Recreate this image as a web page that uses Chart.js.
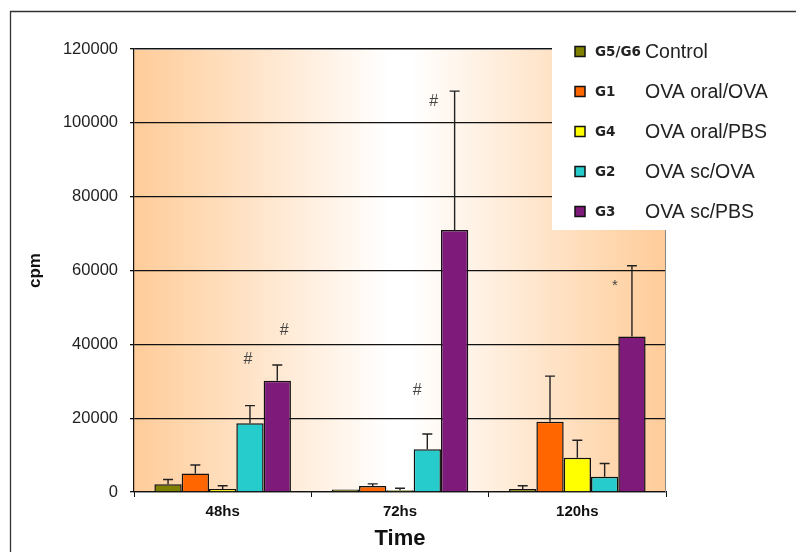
<!DOCTYPE html>
<html><head><meta charset="utf-8">
<script src="https://cdn.jsdelivr.net/npm/chart.js@4.4.1/dist/chart.umd.min.js"></script>
<style>html,body{margin:0;padding:0;background:#fff}#wrap{width:796px;height:552px}</style>
</head><body><div id="wrap"><canvas id="c" width="796" height="552"></canvas></div>
<script>
// ---- data ----
const categories = ['48hs', '72hs', '120hs'];
const groupCodes = ['G5/G6', 'G1', 'G4', 'G2', 'G3'];
const groupNames = ['Control', 'OVA oral/OVA', 'OVA oral/PBS', 'OVA sc/OVA', 'OVA sc/PBS'];
const controlValues    = [2100, 700, 800];
const controlErrors    = [1300, 0, 900];
const ovaOralOvaValues = [5000, 1600, 19000];
const ovaOralOvaErrors = [2300, 600, 12400];
const ovaOralPbsValues = [800, 500, 9300];
const ovaOralPbsErrors = [900, 500, 4700];
const ovaScOvaValues   = [18600, 11550, 4150];
const ovaScOvaErrors   = [4800, 4150, 3550];
const ovaScPbsValues   = [30150, 71000, 42100];
const ovaScPbsErrors   = [4250, 37600, 19200];
const yTicks = [0, 20000, 40000, 60000, 80000, 100000, 120000];
// significance marks: category index, dataset index, symbol, height (cpm)
const markCats   = [0, 0, 1, 1, 2];
const markSeries = [3, 4, 3, 4, 4];
const markSyms   = ['#', '#', '#', '#', '*'];
const markValues = [36000, 43600, 27600, 105700, 56300];

// ---- styles ----
const colors = ['#808000', '#FF6600', '#FFFF00', '#26CCCC', '#7E1A7A'];
const markShift = [-2, 7, -10, -21, -17];
const FONT = '"Liberation Sans", Arial, sans-serif';

const seriesValues = [controlValues, ovaOralOvaValues, ovaOralPbsValues, ovaScOvaValues, ovaScPbsValues];
const seriesErrors = [controlErrors, ovaOralOvaErrors, ovaOralPbsErrors, ovaScOvaErrors, ovaScPbsErrors];

const datasets = seriesValues.map((vals, i) => ({
  label: groupCodes[i] + ' ' + groupNames[i],
  data: vals,
  errors: seriesErrors[i],
  backgroundColor: colors[i],
  borderColor: '#111',
  borderWidth: 1.5,
  categoryPercentage: 0.77,
  barPercentage: 1.0
}));

const bgPlugin = {
  id: 'bg',
  beforeDraw(chart) {
    const {ctx, chartArea: a} = chart;
    ctx.save();
    const g = ctx.createLinearGradient(a.left, 0, a.right, 0);
    g.addColorStop(0, '#FFCC99');
    g.addColorStop(0.48, '#FFFFFF');
    g.addColorStop(0.52, '#FFFFFF');
    g.addColorStop(1, '#FFCC99');
    ctx.fillStyle = g;
    ctx.fillRect(a.left, a.top, a.right - a.left, a.bottom - a.top);
    // outer frame
    ctx.strokeStyle = '#333';
    ctx.lineWidth = 1.3;
    ctx.beginPath();
    ctx.moveTo(10.5, 552); ctx.lineTo(10.5, 11.5); ctx.lineTo(796, 11.5);
    ctx.stroke();
    ctx.restore();
  },
  beforeDatasetsDraw(chart) {
    const {ctx, chartArea: a} = chart;
    ctx.save();
    ctx.strokeStyle = '#8a8a8a';
    ctx.lineWidth = 1;
    ctx.beginPath();
    ctx.moveTo(a.left, a.top + 0.5); ctx.lineTo(a.right - 0.5, a.top + 0.5); ctx.lineTo(a.right - 0.5, a.bottom);
    ctx.stroke();
    ctx.restore();
  }
};

const errPlugin = {
  id: 'errs',
  afterDatasetsDraw(chart) {
    const {ctx} = chart;
    const ys = chart.scales.y;
    ctx.save();
    ctx.strokeStyle = '#222';
    ctx.lineWidth = 1.4;
    chart.data.datasets.forEach((ds, di) => {
      const meta = chart.getDatasetMeta(di);
      meta.data.forEach((el, j) => {
        const e = ds.errors[j];
        if (!e) return;
        const top = ys.getPixelForValue(ds.data[j] + e);
        ctx.beginPath();
        ctx.moveTo(el.x, el.y);
        ctx.lineTo(el.x, top);
        ctx.moveTo(el.x - 5, top);
        ctx.lineTo(el.x + 5, top);
        ctx.stroke();
      });
    });
    // significance marks
    ctx.fillStyle = '#444';
    ctx.textAlign = 'center';
    ctx.textBaseline = 'middle';
    markSyms.forEach((s, k) => {
      const el = chart.getDatasetMeta(markSeries[k]).data[markCats[k]];
      ctx.font = (s === '*' ? '15px ' : '16px ') + FONT;
      ctx.fillText(s, el.x + markShift[k], ys.getPixelForValue(markValues[k]) + (s === '*' ? 2 : 0));
    });
    ctx.restore();
  },
  afterDraw(chart) {
    const {ctx} = chart;
    ctx.save();
    ctx.fillStyle = '#fff';
    ctx.fillRect(552, 26, 240, 204);
    chart.data.datasets.forEach((ds, i) => {
      const y = 51.5 + i * 40;
      ctx.fillStyle = ds.backgroundColor;
      ctx.fillRect(575, y - 5, 10, 10);
      ctx.strokeStyle = '#111';
      ctx.lineWidth = 1.5;
      ctx.strokeRect(575, y - 5, 10, 10);
      ctx.fillStyle = '#222';
      ctx.textAlign = 'left';
      ctx.textBaseline = 'middle';
      ctx.font = 'bold 13.5px "DejaVu Sans", sans-serif';
      ctx.fillText(groupCodes[i], 595, y + 1);
      ctx.font = '19.5px ' + FONT;
      ctx.fillText(groupNames[i], 645, y + 1);
    });
    ctx.restore();
  }
};

new Chart(document.getElementById('c'), {
  type: 'bar',
  data: { labels: categories, datasets },
  options: {
    responsive: false,
    animation: false,
    layout: { padding: { left: 0, top: 49, right: 130, bottom: 0 } },
    plugins: { legend: { display: false }, tooltip: { enabled: false } },
    scales: {
      x: {
        afterFit(s) { s.height = 60; },
        grid: { drawOnChartArea: false, drawTicks: true, tickLength: 5, color: '#111', offset: true },
        border: { display: true, color: '#111', width: 1.2 },
        ticks: { color: '#111', padding: 6, font: { family: FONT, size: 15, weight: 'bold' } },
        title: { display: true, text: 'Time', color: '#111', padding: { top: 0, bottom: 0 },
                 font: { family: FONT, size: 22, weight: 'bold' } }
      },
      y: {
        min: 0, max: 120000,
        afterFit(s) { s.width = 134; },
        afterBuildTicks(s) { s.ticks = yTicks.map(v => ({ value: v })); },
        grid: { color: '#111', lineWidth: 1.3, tickLength: 4, drawTicks: true },
        border: { display: true, color: '#111', width: 1.2 },
        ticks: { color: '#222', padding: 12, font: { family: FONT, size: 16.5 }, callback: v => String(v) },
        title: { display: true, text: 'cpm', color: '#111', padding: { top: 25, bottom: 0 },
                 font: { family: FONT, size: 17, weight: 'bold' } }
      }
    }
  },
  plugins: [bgPlugin, errPlugin]
});
</script>
</body></html>
